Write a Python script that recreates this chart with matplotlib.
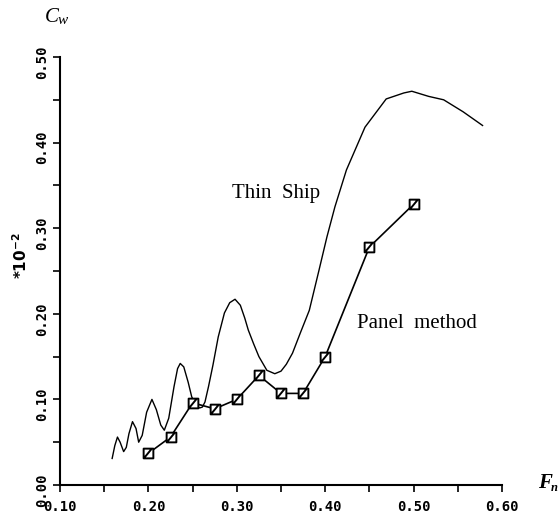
import matplotlib
matplotlib.use("Agg")
import matplotlib.pyplot as plt
from matplotlib.path import Path
from matplotlib.transforms import ScaledTranslation
import numpy as np

# Thin Ship curve
thin_x = [0.159, 0.162, 0.165, 0.168, 0.172, 0.175, 0.178, 0.182, 0.186, 0.189,
          0.193, 0.198, 0.204, 0.209, 0.214, 0.218, 0.223, 0.229, 0.233, 0.236,
          0.240, 0.245, 0.249, 0.254, 0.258, 0.261, 0.264, 0.268, 0.273, 0.279,
          0.286, 0.292, 0.298, 0.304, 0.309, 0.313, 0.319, 0.325, 0.334, 0.343,
          0.350, 0.356, 0.363, 0.372, 0.382, 0.393, 0.402, 0.411, 0.424, 0.445,
          0.469, 0.489, 0.498, 0.517, 0.534, 0.556, 0.578]
thin_y = [0.031, 0.046, 0.056, 0.050, 0.039, 0.044, 0.060, 0.074, 0.066, 0.050,
          0.058, 0.085, 0.100, 0.088, 0.070, 0.064, 0.078, 0.115, 0.136, 0.142,
          0.138, 0.120, 0.103, 0.093, 0.090, 0.091, 0.097, 0.115, 0.140, 0.173,
          0.201, 0.213, 0.217, 0.210, 0.195, 0.181, 0.165, 0.150, 0.134, 0.130,
          0.133, 0.141, 0.154, 0.178, 0.204, 0.251, 0.290, 0.325, 0.368, 0.418,
          0.451, 0.458, 0.460, 0.454, 0.450, 0.436, 0.420]

# Panel method points
panel_x = [0.200, 0.225, 0.250, 0.275, 0.300, 0.325, 0.350, 0.375, 0.400, 0.450, 0.500]
panel_y = [0.037, 0.056, 0.096, 0.089, 0.100, 0.128, 0.107, 0.107, 0.150, 0.278, 0.328]

xticks = [0.10, 0.20, 0.30, 0.40, 0.50, 0.60]
xtick_labels = ["0.10", "0.20", "0.30", "0.40", "0.50", "0.60"]
yticks = [0.00, 0.10, 0.20, 0.30, 0.40, 0.50]
ytick_labels = ["0.00", "0.10", "0.20", "0.30", "0.40", "0.50"]

fig = plt.figure(figsize=(5.59, 5.15), dpi=100)
ax = fig.add_axes([60/559, 30/515, 442/559, 428/515])

ax.plot(thin_x, thin_y, color="black", lw=1.0, solid_joinstyle="round")

# square marker with diagonal slash
verts = [(-1, -1), (1, -1), (1, 1), (-1, 1), (-1, -1), (-0.8, -0.8), (0.6, 0.9)]
codes = [Path.MOVETO, Path.LINETO, Path.LINETO, Path.LINETO, Path.CLOSEPOLY,
         Path.MOVETO, Path.LINETO]
mk = Path(verts, codes)
ax.plot(panel_x, panel_y, color="black", lw=1.2, marker=mk, markersize=7,
        markerfacecolor="white", markeredgecolor="black", markeredgewidth=1.4)

ax.set_xlim(0.10, 0.60)
ax.set_ylim(0.0, 0.50)
for s in ["top", "right"]:
    ax.spines[s].set_visible(False)
for s in ["left", "bottom"]:
    ax.spines[s].set_linewidth(1.5)

ax.set_xticks(xticks)
ax.set_xticklabels(xtick_labels)
ax.set_xticks(np.array(xticks[:-1]) + 0.05, minor=True)
ax.set_yticks(yticks)
ax.set_yticklabels(ytick_labels, rotation=90, va="center")
ax.set_yticks(np.array(yticks[:-1]) + 0.05, minor=True)

ax.tick_params(axis="both", which="both", direction="out", length=5, width=1.2)
ax.tick_params(axis="x", which="major", pad=6)
ax.tick_params(axis="y", which="major", pad=3)

for lab in ax.get_xticklabels() + ax.get_yticklabels():
    lab.set_fontfamily("DejaVu Sans Mono")
    lab.set_fontweight("bold")
    lab.set_fontsize(10)
off = ScaledTranslation(0, -5/100, fig.dpi_scale_trans)
for lab in ax.get_yticklabels():
    lab.set_transform(lab.get_transform() + off)

ax.text(0.2943, 0.335, "Thin  Ship", fontfamily="Liberation Serif", fontsize=15,
        ha="left", va="baseline")
ax.text(0.436, 0.183, "Panel  method", fontfamily="Liberation Serif", fontsize=15,
        ha="left", va="baseline")

# axis labels
fig.text(45/559, 1 - 22/515, "C", fontfamily="Liberation Serif", style="italic",
         fontsize=15, ha="left", va="baseline")
fig.text(58/559, 1 - 24/515, "w", fontfamily="Liberation Serif", style="italic",
         fontsize=11, ha="left", va="baseline")
fig.text(538/559, 1 - 488/515, "F", fontfamily="Liberation Serif", style="italic",
         fontweight="bold", fontsize=15, ha="left", va="baseline")
fig.text(551/559, 1 - 491/515, "n", fontfamily="Liberation Serif", style="italic",
         fontweight="bold", fontsize=9, ha="left", va="baseline")
fig.text(21/559, 1 - 256/515, r"$\mathbf{*10}^{\mathbf{-2}}$", rotation=90,
         fontsize=11, ha="center", va="center")

fig.savefig("out.png", dpi=100)
